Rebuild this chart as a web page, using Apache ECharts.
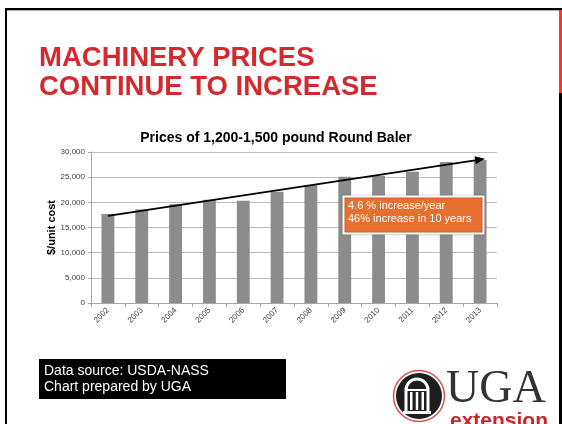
<!DOCTYPE html>
<html>
<head>
<meta charset="utf-8">
<script src="https://cdn.jsdelivr.net/npm/echarts@6/dist/echarts.min.js"></script>
<style>
  html, body { margin: 0; padding: 0; background: #fff; }
  #chart { width: 562px; height: 424px; }
</style>
</head>
<body>
<div id="chart"></div>
<script>
// 数据
var years = ["2002", "2003", "2004", "2005", "2006", "2007", "2008", "2009", "2010", "2011", "2012", "2013"];
var prices = [17700, 18600, 19600, 20500, 20300, 22100, 23400, 25100, 25300, 26100, 28000, 28400];
var trendStart = 17300; // 趋势线起点 (2002)
var trendEnd = 28500;   // 趋势线终点 (2013)
var yMin = 0, yMax = 30000, yStep = 5000;
var noteLines = ["4.6 % increase/year", "46% increase in 10 years"];
var sourceLines = ["Data source: USDA-NASS", "Chart prepared by UGA"];

var FONT = "'Liberation Sans', Arial, sans-serif";
var chart = echarts.init(document.getElementById("chart"));

var option = {
  animation: false,
  backgroundColor: "#fff",
  title: {
    text: "Prices of 1,200-1,500 pound Round Baler",
    left: 271,
    top: 126,
    textAlign: "center",
    textStyle: { fontFamily: FONT, fontSize: 14, fontWeight: "bold", color: "#000" }
  },
  grid: { left: 91, right: 65, top: 152, bottom: 121 },
  xAxis: {
    type: "category",
    data: years,
    axisLine: { lineStyle: { color: "#a6a6a6" } },
    axisTick: { show: true, length: 4, lineStyle: { color: "#a6a6a6" } },
    axisLabel: { rotate: 45, fontSize: 8, fontFamily: FONT, color: "#404040", margin: 6 }
  },
  yAxis: {
    type: "value",
    min: yMin,
    max: yMax,
    interval: yStep,
    name: "$/unit cost",
    nameLocation: "middle",
    nameRotate: 90,
    nameGap: 34,
    nameMoveOverlap: false,
    nameTextStyle: { fontFamily: FONT, fontSize: 11, fontWeight: "bold", color: "#000" },
    axisLine: { show: true, lineStyle: { color: "#a6a6a6" } },
    axisTick: { show: true, length: 3, lineStyle: { color: "#a6a6a6" } },
    axisLabel: {
      fontSize: 8, fontFamily: FONT, color: "#404040", margin: 6,
      formatter: function (v) { return v.toLocaleString("en-US"); }
    },
    splitLine: { lineStyle: { color: "#bdbdbd" } }
  },
  series: [
    {
      type: "bar",
      data: prices,
      barWidth: "38%",
      itemStyle: { color: "#8c8c8c" },
      markLine: {
        silent: true,
        symbol: ["none", "triangle"],
        symbolSize: [8, 10],
        label: { show: false },
        lineStyle: { color: "#000", width: 1.8, type: "solid" },
        data: [[
          { coord: [years[0], trendStart] },
          { coord: [years[years.length - 1], trendEnd] }
        ]]
      }
    }
  ],
  graphic: [
    // 幻灯片边框
    { type: "rect", shape: { x: 5, y: 8, width: 557, height: 2 }, style: { fill: "#000" } },
    { type: "rect", shape: { x: 7, y: 10, width: 552, height: 1 }, style: { fill: "#b0b0b0" } },
    { type: "rect", shape: { x: 5, y: 8, width: 2, height: 416 }, style: { fill: "#000" } },
    { type: "rect", shape: { x: 559, y: 10, width: 3, height: 83 }, style: { fill: "#e04040" } },
    { type: "rect", shape: { x: 559, y: 93, width: 3, height: 331 }, style: { fill: "#000" } },
    // 标题
    { type: "text", style: { x: 39, y: 58, text: "MACHINERY PRICES", fill: "#d32a2f",
        font: "bold 27.5px " + FONT, verticalAlign: "middle" } },
    { type: "text", style: { x: 39, y: 87.5, text: "CONTINUE TO INCREASE", fill: "#d32a2f",
        font: "bold 27.5px " + FONT, verticalAlign: "middle" } },
    // 橙色注释框
    { type: "rect", z: 100, shape: { x: 343.5, y: 196.5, width: 140, height: 37 },
      style: { fill: "#e8702f", stroke: "#fff", lineWidth: 2, shadowBlur: 2, shadowColor: "rgba(0,0,0,0.3)" } },
    { type: "text", z: 101, style: { x: 348, y: 206.4, text: noteLines[0], fill: "#fff",
        font: "11px " + FONT, verticalAlign: "middle" } },
    { type: "text", z: 101, style: { x: 348, y: 219.2, text: noteLines[1], fill: "#fff",
        font: "11px " + FONT, verticalAlign: "middle" } },
    // 数据来源
    { type: "rect", shape: { x: 39, y: 359, width: 247, height: 40 }, style: { fill: "#000" } },
    { type: "text", style: { x: 44, y: 371, text: sourceLines[0], fill: "#fff",
        font: "14px " + FONT, verticalAlign: "middle" } },
    { type: "text", style: { x: 44, y: 387, text: sourceLines[1], fill: "#fff",
        font: "14px " + FONT, verticalAlign: "middle" } },
    // UGA logo
    { type: "circle", shape: { cx: 419, cy: 396, r: 25.5 }, style: { fill: "#fff", stroke: "#d9534f", lineWidth: 1.5 } },
    { type: "circle", shape: { cx: 419, cy: 396, r: 23 }, style: { fill: "#1e1e1e" } },
    { type: "arc", shape: { cx: 417, cy: 390, r: 11, startAngle: Math.PI, endAngle: 2 * Math.PI },
      style: { fill: "none", stroke: "#fff", lineWidth: 3 } },
    { type: "line", shape: { x1: 406, y1: 390, x2: 406, y2: 412 }, style: { stroke: "#fff", lineWidth: 3 } },
    { type: "line", shape: { x1: 428, y1: 390, x2: 428, y2: 412 }, style: { stroke: "#fff", lineWidth: 3 } },
    { type: "rect", shape: { x: 410, y: 392, width: 2.5, height: 18 }, style: { fill: "#fff" } },
    { type: "rect", shape: { x: 415.75, y: 392, width: 2.5, height: 18 }, style: { fill: "#fff" } },
    { type: "rect", shape: { x: 421.5, y: 392, width: 2.5, height: 18 }, style: { fill: "#fff" } },
    { type: "rect", shape: { x: 407, y: 389, width: 20, height: 2 }, style: { fill: "#fff" } },
    { type: "rect", shape: { x: 403, y: 411, width: 28, height: 3 }, style: { fill: "#fff" } },
    { type: "text", style: { x: 446, y: 390, text: "UGA", fill: "#333",
        font: "46px 'Liberation Serif', 'DejaVu Serif', serif", verticalAlign: "middle" } },
    { type: "text", style: { x: 450, y: 421, text: "extension", fill: "#c9252c",
        font: "bold 21px " + FONT, verticalAlign: "middle" } }
  ]
};

chart.setOption(option);
</script>
</body>
</html>
